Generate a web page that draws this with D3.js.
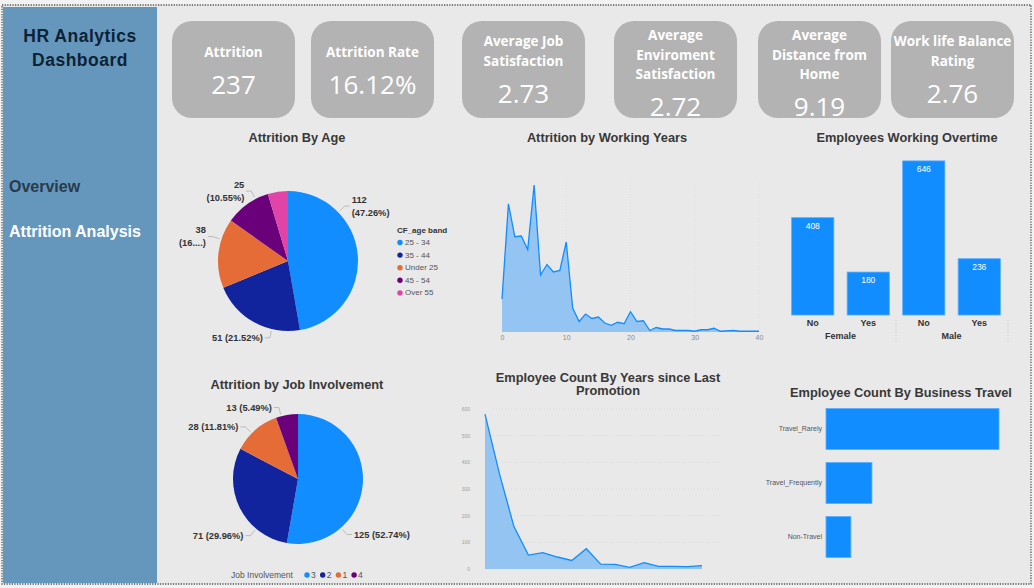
<!DOCTYPE html>
<html lang="en">
<head>
<meta charset="UTF-8">
<title>HR Analytics Dashboard</title>
<script src="https://cdn.jsdelivr.net/npm/d3@7"></script>
<style>
  body { margin: 0; background: #f2f2f2; }
  svg { display: block; font-family: "Liberation Sans", Arial, sans-serif; }
  .title { font-size: 12.8px; font-weight: bold; fill: #383838; text-anchor: middle; }
  .card-title { font-family: "Open Sans", sans-serif; font-weight: bold; font-size: 13.5px; fill: #fff; text-anchor: middle; }
  .card-value { font-family: "Open Sans", sans-serif; font-size: 26px; fill: #fff; text-anchor: middle; }
  .pie-label { font-size: 9.3px; font-weight: bold; fill: #333; }
  .legend { font-size: 8px; fill: #555; }
</style>
</head>
<body>
<svg width="1034" height="588"></svg>
<script>
// ---- data ----
const kpiTitles = [["Attrition"], ["Attrition Rate"], ["Average Job", "Satisfaction"],
  ["Average", "Enviroment", "Satisfaction"], ["Average", "Distance from", "Home"], ["Work life Balance", "Rating"]];
const kpiValues = ["237", "16.12%", "2.73", "2.72", "9.19", "2.76"];

const ageBands = ["25 - 34", "35 - 44", "Under 25", "45 - 54", "Over 55"];
const ageAttrition = [112, 51, 38, 25, 11];
const ageLabelText = [["112", "(47.26%)"], ["51 (21.52%)"], ["38", "(16....)"], ["25", "(10.55%)"], []];

const workYears = [0, 1, 2, 3, 4, 5, 6, 7, 8, 9, 10, 11, 12, 13, 14, 15, 16, 17, 18, 19, 20,
  21, 22, 23, 24, 25, 26, 27, 29, 30, 31, 32, 33, 34, 36, 37, 40];
const workAttrition = [44, 171, 127, 128, 110, 196, 76, 90, 80, 82, 120, 32, 14, 24, 18, 20, 12, 9, 13, 11, 27,
  14, 15, 2, 6, 4, 4, 2, 2, 1, 3, 3, 5, 1, 2, 1, 1];
const workTicks = [0, 10, 20, 30, 40];

const genders = ["Female", "Male"];
const overtimeCats = ["No", "Yes"];
const overtimeCounts = [[408, 180], [646, 236]];

const jobLevels = ["3", "2", "1", "4"];
const jobAttrition = [125, 71, 28, 13];

const promoYears = [0, 1, 2, 3, 4, 5, 6, 7, 8, 9, 10, 11, 12, 13, 14, 15];
const promoCounts = [581, 357, 159, 52, 61, 45, 32, 76, 18, 17, 6, 24, 10, 10, 9, 13];
const promoTicks = [0, 100, 200, 300, 400, 500, 600];

const travelCats = ["Travel_Rarely", "Travel_Frequently", "Non-Travel"];
const travelCounts = [1043, 277, 150];

// ---- styling ----
const pbi = ["#118DFF", "#12239E", "#E66C37", "#6B007B", "#E044A7"];
const areaFill = "#93c4f2";

const svg = d3.select("svg");

// frame + sidebar
svg.append("rect").attr("x", 2).attr("y", 5).attr("width", 1029).attr("height", 579)
  .attr("fill", "#e9e9e9").attr("stroke", "#555").attr("stroke-width", 1.3).attr("stroke-dasharray", "1.3,1.3");
svg.append("rect").attr("x", 3).attr("y", 7).attr("width", 154).attr("height", 576).attr("fill", "#6597bd");

svg.append("text").attr("x", 80).attr("y", 42).attr("text-anchor", "middle")
  .attr("font-size", 17.5).attr("font-weight", "bold").attr("fill", "#0e2236").attr("letter-spacing", 0.5)
  .text("HR Analytics");
svg.append("text").attr("x", 80).attr("y", 66).attr("text-anchor", "middle")
  .attr("font-size", 17.5).attr("font-weight", "bold").attr("fill", "#0e2236").attr("letter-spacing", 0.5)
  .text("Dashboard");
svg.append("text").attr("x", 9).attr("y", 192).attr("font-size", 16).attr("font-weight", "bold")
  .attr("fill", "#2a3a4b").text("Overview");
svg.append("text").attr("x", 9).attr("y", 237).attr("font-size", 16).attr("font-weight", "bold")
  .attr("fill", "#fff").text("Attrition Analysis");

// KPI cards
const cardX = [172, 311, 462, 614, 758, 891];
const firstLineY = [52, 41, 35];
kpiValues.forEach((v, i) => {
  const g = svg.append("g");
  g.append("rect").attr("x", cardX[i]).attr("y", 21).attr("width", 123).attr("height", 97)
    .attr("rx", 20).attr("fill", "#b3b3b3");
  const lines = kpiTitles[i];
  const y0 = firstLineY[lines.length - 1];
  lines.forEach((t, j) => {
    g.append("text").attr("class", "card-title").attr("x", cardX[i] + 61.5).attr("y", y0 + j * 19.5)
      .attr("dominant-baseline", "central").text(t);
  });
  g.append("text").attr("class", "card-value").attr("x", cardX[i] + 61.5)
    .attr("y", y0 + (lines.length - 1) * 19.5 + 32).attr("dominant-baseline", "central").text(v);
});

// ---- pie helper ----
function drawPie(cx, cy, r, values, labels, fracs) {
  const arcs = d3.pie().sort(null).value(d => d)(values);
  const g = svg.append("g").attr("transform", `translate(${cx},${cy})`);
  g.selectAll("path").data(arcs).join("path")
    .attr("d", d3.arc().innerRadius(0).outerRadius(r))
    .attr("fill", (d, i) => pbi[i]);
  arcs.forEach((a, i) => {
    if (!labels[i].length) return;
    const ang = a.startAngle + fracs[i] * (a.endAngle - a.startAngle);
    const sx = Math.sin(ang), sy = -Math.cos(ang);
    const right = sx >= 0;
    const p1 = [sx * (r + 2), sy * (r + 2)], p2 = [sx * (r + 9), sy * (r + 9)];
    const p3 = [p2[0] + (right ? 5 : -5), p2[1]];
    g.append("polyline").attr("points", [p1, p2, p3].join(" "))
      .attr("fill", "none").attr("stroke", "#a8a8a8").attr("stroke-width", 0.7);
    labels[i].forEach((t, j) => {
      g.append("text").attr("class", "pie-label")
        .attr("x", p3[0] + (right ? 2 : -2))
        .attr("y", p3[1] + (j - (labels[i].length - 1) / 2) * 13)
        .attr("dominant-baseline", "central")
        .attr("text-anchor", right ? "start" : "end").text(t);
    });
  });
}

// Attrition By Age
svg.append("text").attr("class", "title").attr("x", 297).attr("y", 142).text("Attrition By Age");
drawPie(288, 261, 70, ageAttrition, ageLabelText, [0.27, 0.3, 0.7, 0.71, 0.5]);
svg.append("text").attr("x", 397).attr("y", 233).attr("font-size", 8).attr("font-weight", "bold")
  .attr("fill", "#333").text("CF_age band");
ageBands.forEach((b, i) => {
  const y = 245 + i * 12.6;
  svg.append("circle").attr("cx", 400).attr("cy", y - 2.5).attr("r", 2.7).attr("fill", pbi[i]);
  svg.append("text").attr("class", "legend").attr("x", 405).attr("y", y).text(b);
});

// Attrition by Working Years
svg.append("text").attr("class", "title").attr("x", 607).attr("y", 142).text("Attrition by Working Years");
const xw = d3.scaleLinear().domain([0, 40]).range([502, 759]);
const yw = d3.scaleLinear().domain([0, 200]).range([332, 182]);
svg.append("g").selectAll("line").data(workTicks.slice(1)).join("line")
  .attr("x1", d => xw(d)).attr("x2", d => xw(d)).attr("y1", yw(200)).attr("y2", yw(0))
  .attr("stroke", "#dedede").attr("stroke-dasharray", "1,2");
const workPts = workYears.map((yr, i) => [yr, workAttrition[i]]);
svg.append("path").datum(workPts).attr("fill", areaFill)
  .attr("d", d3.area().x(d => xw(d[0])).y0(yw(0)).y1(d => yw(d[1])));
svg.append("path").datum(workPts).attr("fill", "none").attr("stroke", "#118DFF").attr("stroke-width", 1.3)
  .attr("d", d3.line().x(d => xw(d[0])).y(d => yw(d[1])));
const axW = svg.append("g").attr("transform", `translate(0,${yw(0)})`)
  .call(d3.axisBottom(xw).tickValues(workTicks).tickSize(0).tickPadding(3));
axW.select(".domain").remove();
axW.selectAll("text").attr("font-size", 7).attr("fill", "#8a8a8a").attr("font-family", "Liberation Sans");

// Employees Working Overtime
svg.append("text").attr("class", "title").attr("x", 907).attr("y", 142).text("Employees Working Overtime");
const otKeys = [];
genders.forEach((gd, gi) => overtimeCats.forEach((c, ci) => otKeys.push({ gd, c, v: overtimeCounts[gi][ci] })));
const xo = d3.scaleBand().domain(otKeys.map(d => d.gd + d.c)).range([785, 1007]).paddingInner(0.24).paddingOuter(0.12);
const yo = d3.scaleLinear().domain([0, 700]).range([315, 148]);
svg.append("g").selectAll("rect").data(otKeys).join("rect")
  .attr("x", d => xo(d.gd + d.c)).attr("y", d => yo(d.v))
  .attr("width", xo.bandwidth()).attr("height", d => yo(0) - yo(d.v))
  .attr("fill", "#118DFF").attr("stroke", "#5aaeff").attr("stroke-width", 0.8);
svg.append("g").selectAll("text").data(otKeys).join("text")
  .attr("x", d => xo(d.gd + d.c) + xo.bandwidth() / 2).attr("y", d => yo(d.v) + 11)
  .attr("text-anchor", "middle").attr("font-size", 8.5).attr("fill", "#fff").text(d => d.v);
svg.append("g").selectAll("text").data(otKeys).join("text")
  .attr("x", d => xo(d.gd + d.c) + xo.bandwidth() / 2).attr("y", 326)
  .attr("text-anchor", "middle").attr("font-size", 9).attr("font-weight", "bold").attr("fill", "#333").text(d => d.c);
genders.forEach(gd => {
  const x0 = xo(gd + overtimeCats[0]), x1 = xo(gd + overtimeCats[1]) + xo.bandwidth();
  svg.append("text").attr("x", (x0 + x1) / 2).attr("y", 339).attr("text-anchor", "middle")
    .attr("font-size", 9).attr("font-weight", "bold").attr("fill", "#333").text(gd);
});
[xo(genders[1] + overtimeCats[0]) - xo.step() * 0.12, 1008].forEach(x => {
  svg.append("line").attr("x1", x).attr("x2", x).attr("y1", 320).attr("y2", 344)
    .attr("stroke", "#cfcfcf").attr("stroke-dasharray", "1,2");
});

// Attrition by Job Involvement
svg.append("text").attr("class", "title").attr("x", 297).attr("y", 389).text("Attrition by Job Involvement");
const total = d3.sum(jobAttrition);
const jobLabelText = jobAttrition.map(v => [`${v} (${(v / total * 100).toFixed(2)}%)`]);
drawPie(298, 479, 65, jobAttrition, jobLabelText, [0.73, 0.28, 0.4, 0.24]);
svg.append("text").attr("x", 231).attr("y", 578).attr("font-size", 8.5).attr("fill", "#555").text("Job Involvement");
jobLevels.forEach((l, i) => {
  const x = 307 + i * 15.7;
  svg.append("circle").attr("cx", x).attr("cy", 575).attr("r", 2.7).attr("fill", pbi[i]);
  svg.append("text").attr("x", x + 4).attr("y", 578).attr("font-size", 8.5).attr("fill", "#555").text(l);
});

// Employee Count By Years since Last Promotion
svg.append("text").attr("class", "title").attr("x", 608).attr("y", 382).text("Employee Count By Years since Last");
svg.append("text").attr("class", "title").attr("x", 608).attr("y", 395).text("Promotion");
const xp = d3.scaleLinear().domain([0, 15]).range([485, 702]);
const yp = d3.scaleLinear().domain([0, 600]).range([569, 409]);
svg.append("g").selectAll("line").data(promoTicks.slice(1)).join("line")
  .attr("x1", 493).attr("x2", 720).attr("y1", d => yp(d)).attr("y2", d => yp(d))
  .attr("stroke", "#dadada").attr("stroke-dasharray", "1,2");
const promoPts = promoYears.map((yr, i) => [yr, promoCounts[i]]);
svg.append("path").datum(promoPts).attr("fill", areaFill)
  .attr("d", d3.area().x(d => xp(d[0])).y0(yp(0)).y1(d => yp(d[1])));
svg.append("path").datum(promoPts).attr("fill", "none").attr("stroke", "#118DFF").attr("stroke-width", 1.3)
  .attr("d", d3.line().x(d => xp(d[0])).y(d => yp(d[1])));
const axP = svg.append("g").attr("transform", "translate(470,0)")
  .call(d3.axisLeft(yp).tickValues(promoTicks).tickSize(0).tickPadding(0));
axP.select(".domain").remove();
axP.selectAll("text").attr("font-size", 5).attr("fill", "#a0a0a0").attr("font-family", "Liberation Sans");

// Employee Count By Business Travel
svg.append("text").attr("class", "title").attr("x", 901).attr("y", 397).text("Employee Count By Business Travel");
const yt = d3.scaleBand().domain(travelCats).range([402, 564]).paddingInner(0.24).paddingOuter(0.12);
const xt = d3.scaleLinear().domain([0, 1043]).range([826, 999]);
svg.append("g").selectAll("rect").data(travelCats).join("rect")
  .attr("x", xt(0)).attr("y", d => yt(d)).attr("height", yt.bandwidth())
  .attr("width", (d, i) => xt(travelCounts[i]) - xt(0))
  .attr("fill", "#118DFF").attr("stroke", "#5aaeff").attr("stroke-width", 0.8);
const axT = svg.append("g").attr("transform", `translate(${xt(0) - 3},0)`)
  .call(d3.axisLeft(yt).tickSize(0).tickPadding(1));
axT.select(".domain").remove();
axT.selectAll("text").attr("font-size", 7).attr("fill", "#555").attr("font-family", "Liberation Sans");
</script>
</body>
</html>
